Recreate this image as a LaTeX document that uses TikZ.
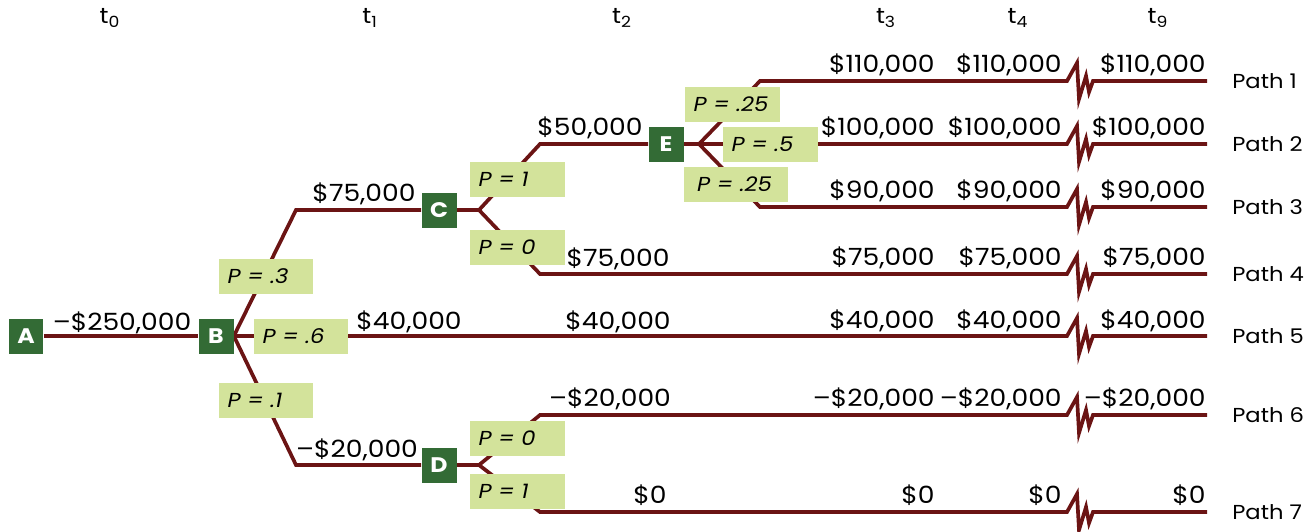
\documentclass[tikz,border=0pt]{standalone}
\usepackage{fontspec}
\setmainfont{Poppins}[FakeStretch=1.12]
\usetikzlibrary{positioning,backgrounds}
\definecolor{branch}{HTML}{6B1414}
\definecolor{nodegreen}{HTML}{336B35}
\definecolor{probfill}{HTML}{D3E39B}
\newcommand{\cashfont}{\fontsize{13.5}{15}\selectfont}
\newcommand{\zigbreak}{-- ++(10,-18) -- ++(2,36) -- ++(7,-23) -- ++(3,16) -- ++(4,-11)}

\begin{document}
\begin{tikzpicture}[
      x=0.02cm,y=-0.02cm,
      letter/.style={fill=nodegreen,text=white,font=\fontsize{12}{14}\selectfont\bfseries,minimum size=0.7cm,inner sep=0pt},
      prob/.style={fill=probfill,font=\fontsize{11.5}{13}\selectfont\itshape,minimum height=0.7cm,text width=1.54cm,inner xsep=0.18cm,inner ysep=0pt,align=left},
      cash/.style={font=\cashfont,inner sep=0pt},
      tlabel/.style={font=\fontsize{12.5}{14}\selectfont},
      pathlbl/.style={font=\fontsize{11.5}{14}\selectfont,inner sep=0pt},
      wire/.style={draw=branch,line width=2.1pt}]

    \useasboundingbox (0,0) rectangle (1310,531);

    % decision points
    \node[letter] (A) at (26,336)  {A};
    \node[letter] (B) at (216,336) {B};
    \node[letter] (C) at (439,210) {C};
    \node[letter] (D) at (439,465) {D};
    \node[letter] (E) at (666,144) {E};

    \coordinate (bc)  at (296,210);
    \coordinate (bd)  at (296,465);
    \coordinate (cf)  at (479,210);
    \coordinate (ce)  at (540,144);
    \coordinate (c4)  at (540,274);
    \coordinate (ef)  at (699,144);
    \coordinate (e1)  at (760,81);
    \coordinate (e3)  at (760,207);
    \coordinate (df)  at (479,465);
    \coordinate (d6)  at (540,415);
    \coordinate (d7)  at (540,512);
    \coordinate (cut) at (1067,0);

    \coordinate (end1) at (1207,81);
    \coordinate (end2) at (1207,144);
    \coordinate (end3) at (1207,207);
    \coordinate (end4) at (1207,274);
    \coordinate (end5) at (1207,336);
    \coordinate (end6) at (1207,415);
    \coordinate (end7) at (1207,512);

    % probabilities
    \node[prob] (pB1) at (266,276) {P = .3};
    \node[prob] (pB2) at (301,336) {P = .6};
    \node[prob] (pB3) at (266,400) {P = .1};
    \node[prob] (pC1) at (517,179) {P = 1};
    \node[prob] (pC2) at (517,247) {P = 0};
    \node[prob] (pE1) at (732,104) {P = .25};
    \node[prob] (pE2) at (770,144) {P = .5};
    \node[prob,text width=1.56cm,inner xsep=0.26cm] (pE3) at (736,184) {P = .25};
    \node[prob] (pD1) at (517,438) {P = 0};
    \node[prob] (pD2) at (517,491) {P = 1};

    \begin{scope}[on background layer]
      \draw[wire] (A) -- (B);
      \draw[wire] (B.east) -- (bc) -- (C);
      \draw[wire] (B) -- (cut |- B) \zigbreak -- (end5);
      \draw[wire] (B.east) -- (bd) -- (D);
      \draw[wire] (C) -- (cf) -- (ce) -- (E);
      \draw[wire] (cf) -- (c4) -- (cut |- c4) \zigbreak -- (end4);
      \draw[wire] (E) -- (ef) -- (e1) -- (cut |- e1) \zigbreak -- (end1);
      \draw[wire] (E) -- (cut |- E) \zigbreak -- (end2);
      \draw[wire] (ef) -- (e3) -- (cut |- e3) \zigbreak -- (end3);
      \draw[wire] (D) -- (df) -- (d6) -- (cut |- d6) \zigbreak -- (end6);
      \draw[wire] (df) -- (d7) -- (cut |- d7) \zigbreak -- (end7);
    \end{scope}

    % time axis
    \node[tlabel] (t0) at (110,18)  {t\textsubscript{0}};
    \node[tlabel] (t1) at (370,18)  {t\textsubscript{1}};
    \node[tlabel] (t2) at (622,18)  {t\textsubscript{2}};
    \node[tlabel] (t3) at (886,18)  {t\textsubscript{3}};
    \node[tlabel] (t4) at (1018,18) {t\textsubscript{4}};
    \node[tlabel] (t9) at (1158,18) {t\textsubscript{9}};

    % cash flows
    \node[cash,anchor=base] (cA)   at (122,330) {--\$250,000};
    \node[cash,anchor=base] (cC1)  at (364,201) {\$75,000};
    \node[cash,anchor=base] (cB5)  at (409,329) {\$40,000};
    \node[cash,anchor=base] (cD1)  at (357,457) {--\$20,000};
    \node[cash,anchor=base] (cE2)  at (590,135) {\$50,000};
    \node[cash,anchor=base] (c4t2) at (618,266) {\$75,000};
    \node[cash,anchor=base] (c5t2) at (618,329) {\$40,000};
    \node[cash,anchor=base] (c6t2) at (610,406) {--\$20,000};
    \node[cash,anchor=base] (c7t2) at (650,503) {\$0};

    \node[cash,anchor=base east] (c1t3) at (935,72)  {\$110,000};
    \node[cash,anchor=base east] (c2t3) at (935,135) {\$100,000};
    \node[cash,anchor=base east] (c3t3) at (935,198) {\$90,000};
    \node[cash,anchor=base east] (c4t3) at (935,265) {\$75,000};
    \node[cash,anchor=base east] (c5t3) at (935,328) {\$40,000};
    \node[cash,anchor=base east] (c6t3) at (935,406) {--\$20,000};
    \node[cash,anchor=base east] (c7t3) at (935,503) {\$0};

    \node[cash,anchor=base east] (c1t4) at (1062,72)  {\$110,000};
    \node[cash,anchor=base east] (c2t4) at (1062,135) {\$100,000};
    \node[cash,anchor=base east] (c3t4) at (1062,198) {\$90,000};
    \node[cash,anchor=base east] (c4t4) at (1062,265) {\$75,000};
    \node[cash,anchor=base east] (c5t4) at (1062,328) {\$40,000};
    \node[cash,anchor=base east] (c6t4) at (1062,406) {--\$20,000};
    \node[cash,anchor=base east] (c7t4) at (1062,503) {\$0};

    \node[cash,anchor=base east] (c1t9) at (1206,72)  {\$110,000};
    \node[cash,anchor=base east] (c2t9) at (1206,135) {\$100,000};
    \node[cash,anchor=base east] (c3t9) at (1206,198) {\$90,000};
    \node[cash,anchor=base east] (c4t9) at (1206,265) {\$75,000};
    \node[cash,anchor=base east] (c5t9) at (1206,328) {\$40,000};
    \node[cash,anchor=base east] (c6t9) at (1206,406) {--\$20,000};
    \node[cash,anchor=base east] (c7t9) at (1206,503) {\$0};

    % path names
    \node[pathlbl,right=0.5cm of end1] (path1) {Path 1};
    \node[pathlbl,right=0.5cm of end2] (path2) {Path 2};
    \node[pathlbl,right=0.5cm of end3] (path3) {Path 3};
    \node[pathlbl,right=0.5cm of end4] (path4) {Path 4};
    \node[pathlbl,right=0.5cm of end5] (path5) {Path 5};
    \node[pathlbl,right=0.5cm of end6] (path6) {Path 6};
    \node[pathlbl,right=0.5cm of end7] (path7) {Path 7};
  \end{tikzpicture}
\end{document}
